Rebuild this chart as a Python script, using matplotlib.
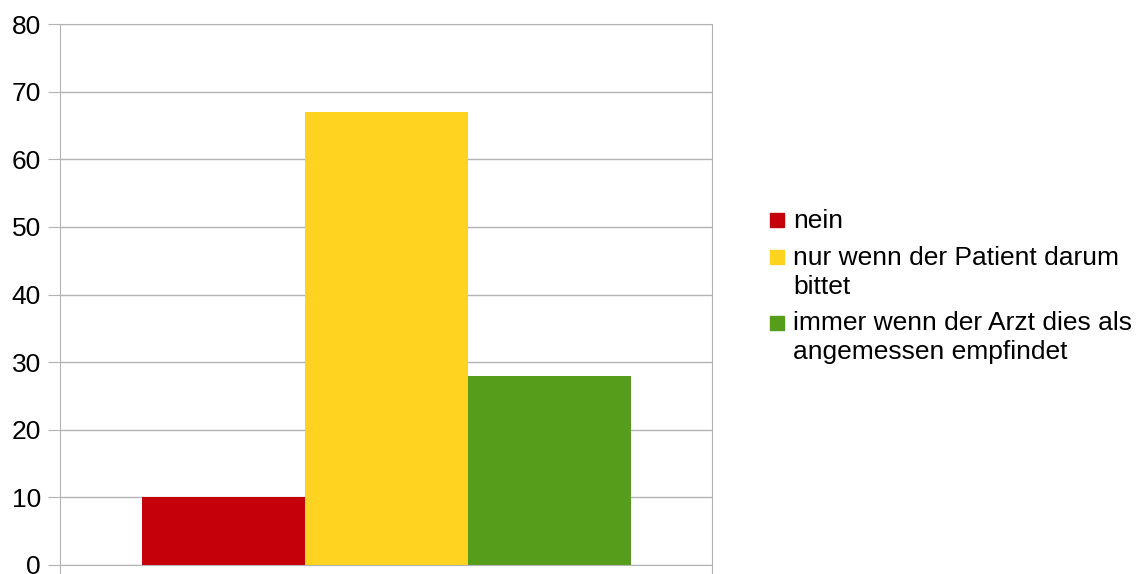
import matplotlib.pyplot as plt
from matplotlib.patches import Rectangle

# Antworten und Anzahl
labels = ['nein', 'nur wenn der Patient darum\nbittet', 'immer wenn der Arzt dies als\nangemessen empfindet']
values = [10, 67, 28]
colors = ['#c5000b', '#ffd320', '#579d1c']

plt.rcParams['font.family'] = ['Liberation Sans', 'DejaVu Sans']

W, H = 1143, 574
fig = plt.figure(figsize=(W / 100, H / 100), dpi=100)
ax = fig.add_axes([60 / W, 9 / H, 652 / W, 541 / H])

# drei Balken nebeneinander innerhalb einer Kategorie
width = 0.25
offsets = [-width, 0, width]
for off, v, c in zip(offsets, values, colors):
    ax.bar(0.5 + off, v, width=width, color=c, zorder=2)

ax.set_xlim(0, 1)
ax.set_ylim(0, 80)
ax.set_yticks(range(0, 81, 10))
ax.set_xticks([0, 1])
ax.set_xticklabels([])
ax.grid(axis='y', color='#b3b3b3', linewidth=1, zorder=0)
for s in ax.spines.values():
    s.set_color('#b3b3b3')
ax.tick_params(axis='y', length=8.6, color='#b3b3b3', labelsize=19, pad=5)
ax.tick_params(axis='x', length=9, color='#b3b3b3')

# Legende von Hand: Quadrat neben der ersten Zeile, Text zeilenweise
baseline = 228
for lab, c in zip(labels, colors):
    lines = lab.split('\n')
    fig.add_artist(Rectangle((770 / W, 1 - (baseline - 1) / H), 14 / W, 14 / H,
                             transform=fig.transFigure, color=c))
    for ln in lines:
        fig.text(793 / W, 1 - baseline / H, ln, fontsize=19, va='baseline', ha='left')
        baseline += 28.5
    baseline += 8.5

fig.savefig('out.png', dpi=100)
